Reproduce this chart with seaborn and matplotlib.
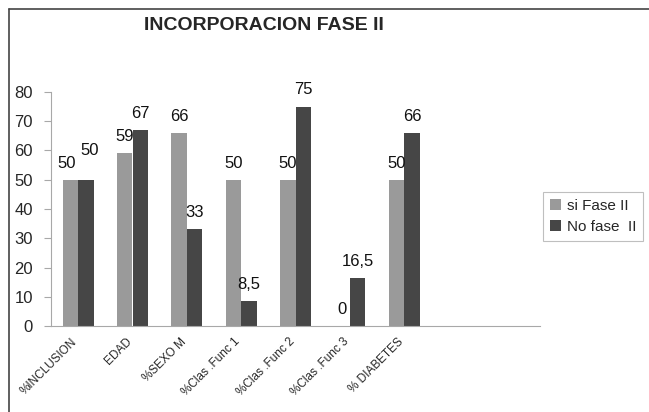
import numpy as np
import pandas as pd
import matplotlib
matplotlib.use("Agg")
import matplotlib.pyplot as plt
import matplotlib.transforms as mtransforms
from matplotlib.lines import Line2D
import seaborn as sns

categories = ['%INCLUSION', 'EDAD', '%SEXO M', '%Clas .Func 1', '%Clas .Func 2', '%Clas .Func 3', '% DIABETES']
series_names = ['si Fase II', 'No fase  II']
si_fase = [50, 59, 66, 50, 50, 0, 50]
no_fase = [50, 67, 33, 8.5, 75, 16.5, 66]
y_ticks = [0, 10, 20, 30, 40, 50, 60, 70, 80]
n_slots = 9
title = 'INCORPORACION FASE II'

sns.set_style('white')
plt.rcParams['font.family'] = ['Liberation Sans', 'DejaVu Sans']

df = pd.DataFrame({
    'categoria': categories * 2,
    'serie': [series_names[0]] * len(categories) + [series_names[1]] * len(categories),
    'valor': si_fase + no_fase,
})

fig = plt.figure(figsize=(6.49, 4.12), dpi=100)
ax = fig.add_axes([51 / 649, 1 - 326 / 412, (540 - 51) / 649, (326 - 92) / 412])

palette = {series_names[0]: '#9a9a9a', series_names[1]: '#464646'}
sns.barplot(data=df, x='categoria', y='valor', hue='serie', order=categories,
            hue_order=series_names, palette=palette, width=0.57, gap=0,
            saturation=1, linewidth=0, ax=ax, legend=True)

ax.set_xlim(-0.5, n_slots - 0.5)
ax.set_ylim(0, 80)
ax.set_yticks(y_ticks)
ax.set_yticklabels([str(t) for t in y_ticks], fontsize=12)
ax.set_xlabel('')
ax.set_ylabel('')

# x ticks: labels at centers (no marks), marks at boundaries
ax.set_xticks(range(len(categories)))
ax.set_xticklabels(categories, rotation=45, ha='right', rotation_mode='anchor', fontsize=8.5)
ax.tick_params(axis='x', which='major', length=0, pad=7)
shift = mtransforms.ScaledTranslation(-7 / 100, 0, fig.dpi_scale_trans)
for lab in ax.get_xticklabels():
    lab.set_transform(lab.get_transform() + shift)
ax.set_xticks(np.arange(-0.5, n_slots), minor=True)
ax.tick_params(axis='x', which='minor', length=4, color='#a8a8a8', width=0.8, direction='out')
ax.tick_params(axis='y', length=5, color='#a8a8a8', width=0.8, direction='out', pad=8, left=True)

for side in ['top', 'right']:
    ax.spines[side].set_visible(False)
for side in ['left', 'bottom']:
    ax.spines[side].set_color('#a8a8a8')
    ax.spines[side].set_linewidth(0.8)

def fmt(v):
    s = ('%g' % v)
    return s.replace('.', ',')

conts = ax.containers
for i in range(len(categories)):
    b_si = conts[0][i]
    b_no = conts[1][i]
    v_si, v_no = si_fase[i], no_fase[i]
    close = abs(v_si - v_no) < 5
    for bar, v, k in [(b_si, v_si, 0), (b_no, v_no, 1)]:
        x = bar.get_x() + bar.get_width() / 2
        dx, dy = 0, 12
        if close:
            dx = -3 if k == 0 else 3
            dy = 12 if k == 0 else 21
        ax.annotate(fmt(v), xy=(x, v), xytext=(dx, dy), textcoords='offset points',
                    ha='center', va='center', fontsize=12, color='#111111')

leg = ax.legend(loc='upper left', bbox_to_anchor=(543 / 649, 1 - 192 / 412),
                bbox_transform=fig.transFigure, borderaxespad=0, fontsize=11,
                frameon=True, fancybox=False, handlelength=0.7, handleheight=0.7,
                handletextpad=0.4, labelspacing=0.45, borderpad=0.45)
leg.get_frame().set_edgecolor('#b0b0b0')
leg.get_frame().set_linewidth(0.8)

fig.text(264 / 649, 1 - 26 / 412, title, ha='center', va='center', fontsize=14,
         fontweight='bold')

# outer chart frame (top and left edges visible)
fx = 9 / 649
fy = 1 - 9 / 412
fig.add_artist(Line2D([fx, 1], [fy, fy], transform=fig.transFigure, color='#444444', lw=1.2))
fig.add_artist(Line2D([fx, fx], [0, fy], transform=fig.transFigure, color='#444444', lw=1.2))

fig.savefig('out.png', dpi=100)
